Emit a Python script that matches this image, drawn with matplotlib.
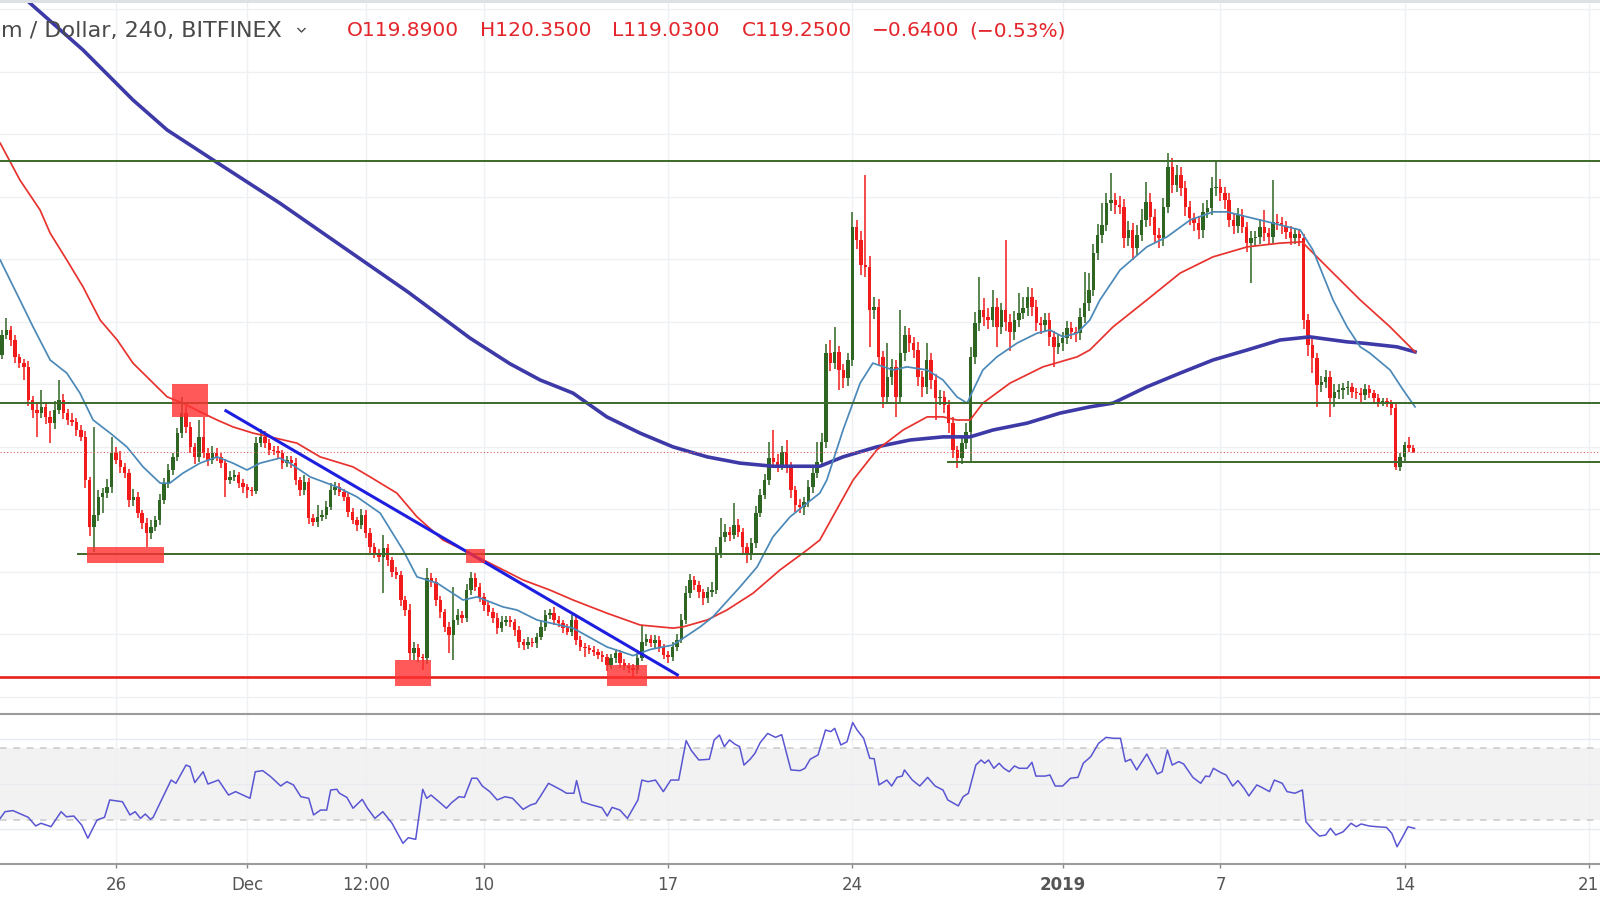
import numpy as np
import matplotlib
matplotlib.use("Agg")
import matplotlib.pyplot as plt
import matplotlib.dates as mdates
from matplotlib.lines import Line2D
from matplotlib.patches import Rectangle

# ETH/USD, 4h bars on Bitfinex, first visible bar 21 Nov 2018 12:00
start = "2018-11-21 12:00"
first_open = 138.2

closes = [
    134.7, 137.9, 138.7, 137.1, 134.4, 133.4, 132.8, 127.5, 125.9, 125.4,
    126.4, 124.8, 123.8, 125.9, 127.5, 125.4, 124.3, 124.0, 122.7, 121.6,
    114.7, 107.2, 109.1, 112.0, 112.6, 113.6, 119.0, 117.9, 116.8, 115.8,
    111.5, 112.0, 109.4, 107.8, 106.2, 107.2, 108.3, 111.5, 114.2, 116.3,
    118.4, 122.2, 125.4, 123.2, 120.0, 118.4, 121.6, 119.0, 117.9, 119.0,
    118.4, 117.4, 114.7, 115.2, 115.5, 114.2, 113.6, 113.1, 112.9, 120.6,
    121.6, 120.6, 119.5, 119.3, 119.0, 117.4, 117.9, 117.4, 114.7, 113.1,
    114.4, 108.6, 108.0, 108.8, 109.1, 110.4, 113.1, 113.6, 112.8, 112.0,
    109.6, 108.3, 107.5, 109.1, 106.2, 104.0, 103.0, 102.4, 103.8, 101.9,
    100.0, 99.5, 95.5, 93.9, 87.0, 87.8, 86.4, 86.2, 99.0, 98.4,
    95.5, 93.6, 91.2, 89.9, 92.3, 93.1, 92.6, 97.1, 99.0, 97.6,
    96.0, 94.7, 93.6, 92.6, 91.0, 92.0, 92.3, 92.0, 90.7, 88.8,
    88.3, 88.8, 88.6, 89.6, 91.2, 93.1, 93.4, 92.3, 91.8, 91.0,
    90.4, 92.3, 89.1, 88.0, 87.8, 87.5, 87.2, 86.7, 86.4, 85.1,
    86.2, 87.0, 85.4, 84.9, 84.6, 84.3, 86.2, 88.8, 89.3, 88.6,
    89.1, 88.0, 86.7, 86.4, 88.0, 89.1, 92.3, 96.6, 98.7, 97.9,
    96.8, 95.8, 96.8, 97.1, 103.0, 105.6, 106.4, 105.9, 107.5, 106.4,
    104.0, 102.7, 104.6, 109.4, 112.3, 114.7, 118.2, 117.6, 117.1, 119.2,
    116.8, 113.1, 110.7, 110.4, 111.2, 113.6, 115.8, 117.6, 120.8, 135.0,
    133.4, 135.2, 132.3, 131.0, 133.9, 155.2, 153.1, 149.1, 148.8, 141.9,
    142.4, 134.4, 128.0, 131.2, 132.8, 128.0, 135.0, 137.9, 136.6, 135.5,
    131.2, 129.6, 133.9, 130.7, 127.8, 128.0, 126.7, 123.8, 119.5, 118.2,
    120.6, 122.4, 134.4, 139.8, 141.9, 140.8, 140.3, 142.4, 139.2, 141.9,
    140.0, 138.4, 140.3, 141.4, 142.2, 144.0, 142.4, 139.8, 139.5, 140.3,
    137.6, 136.0, 136.6, 137.4, 139.0, 138.4, 138.2, 140.8, 143.0, 145.1,
    151.0, 153.9, 155.5, 159.0, 159.5, 158.7, 158.4, 153.4, 154.7, 151.8,
    153.9, 156.3, 159.2, 156.8, 153.9, 153.4, 158.4, 164.8, 161.9, 163.5,
    161.4, 158.4, 156.6, 155.8, 154.7, 157.6, 158.2, 161.4, 161.6, 160.6,
    159.5, 156.3, 155.3, 157.1, 155.2, 152.6, 153.4, 153.6, 155.2, 154.2,
    153.6, 156.0, 155.8, 155.3, 154.4, 153.4, 154.1, 153.4, 140.3, 136.3,
    134.2, 129.9, 130.4, 131.2, 127.8, 128.8, 129.1, 129.4, 129.6, 128.8,
    128.6, 128.3, 129.3, 128.6, 127.8, 127.2, 127.3, 127.0, 126.2, 116.8,
    118.4, 120.3, 119.89, 119.25,
]

# wick length above / below the candle body
wick_up = [
    1.0, 0.8, 1.9, 0.6, 0.8, 0.5, 0.7, 0.9, 0.6, 1.2,
    2.7, 0.8, 1.0, 1.5, 3.2, 0.9, 0.7, 1.2, 0.6, 0.8,
    0.9, 0.5, 14.1, 1.1, 0.8, 1.2, 2.6, 1.0, 1.4, 0.7,
    0.6, 1.3, 0.8, 0.5, 0.9, 1.1, 0.6, 0.9, 0.8, 1.0,
    0.7, 0.9, 2.6, 1.2, 0.8, 0.6, 2.7, 3.2, 0.9, 1.1,
    0.8, 0.6, 0.7, 0.9, 0.8, 0.5, 0.6, 0.4, 0.5, 1.0,
    1.2, 0.9, 0.7, 0.6, 0.8, 0.5, 0.7, 0.6, 0.8, 0.5,
    1.1, 0.7, 0.6, 1.9, 0.8, 0.9, 1.2, 0.8, 0.6, 0.5,
    0.7, 0.6, 0.5, 1.0, 0.8, 0.9, 0.6, 0.7, 2.1, 0.6,
    0.5, 0.8, 0.6, 0.7, 0.9, 1.0, 0.6, 0.5, 1.6, 0.8,
    0.7, 0.6, 0.5, 0.8, 5.3, 0.9, 0.7, 1.0, 1.0, 0.8,
    0.6, 0.7, 0.5, 0.6, 0.8, 0.9, 0.6, 0.7, 0.5, 0.6,
    0.5, 0.8, 0.6, 0.7, 0.9, 0.8, 0.7, 1.0, 0.6, 0.5,
    0.6, 0.8, 0.5, 0.6, 0.7, 0.5, 0.6, 0.5, 0.6, 0.5,
    0.7, 0.6, 0.5, 0.6, 0.5, 0.6, 0.8, 2.7, 0.7, 0.6,
    0.8, 0.6, 0.5, 0.7, 0.8, 0.9, 1.0, 1.2, 0.9, 0.7,
    0.6, 0.5, 0.8, 1.3, 1.0, 3.0, 1.2, 0.8, 3.5, 0.9,
    0.7, 0.6, 0.9, 1.1, 1.0, 0.9, 2.6, 4.5, 1.2, 1.0,
    1.9, 0.8, 0.7, 0.9, 0.8, 1.1, 1.0, 3.2, 1.4, 1.5,
    2.1, 4.0, 0.9, 1.0, 1.2, 2.4, 1.1, 1.5, 14.4, 1.8,
    1.6, 1.2, 1.0, 5.4, 1.3, 1.1, 6.9, 1.5, 1.2, 1.0,
    1.3, 0.9, 2.7, 1.2, 1.0, 1.1, 0.9, 0.8, 1.0, 0.7,
    1.2, 1.4, 1.6, 1.8, 5.3, 2.0, 1.4, 2.7, 1.5, 1.2,
    11.2, 1.3, 1.5, 3.2, 1.8, 1.6, 1.4, 1.1, 1.0, 1.2,
    1.1, 1.0, 1.3, 0.9, 1.2, 1.0, 0.8, 1.4, 5.0, 2.7,
    1.5, 1.8, 3.5, 1.6, 4.3, 1.2, 1.5, 1.3, 1.4, 1.1,
    1.6, 1.8, 3.2, 1.4, 1.2, 1.1, 1.5, 2.2, 1.4, 1.6,
    1.3, 1.1, 1.0, 0.9, 1.2, 1.4, 1.3, 1.8, 4.1, 1.2,
    1.0, 1.1, 0.9, 1.2, 1.0, 0.8, 1.1, 1.0, 1.3, 2.7,
    0.9, 6.7, 1.2, 1.0, 0.8, 0.9, 1.0, 0.8, 0.7, 1.0,
    0.9, 0.8, 1.0, 1.1, 0.9, 1.2, 1.0, 0.8, 0.9, 0.7,
    0.6, 0.8, 0.7, 0.6, 0.5, 0.6, 0.5, 0.6, 0.5, 0.7,
    0.6, 0.5, 1.3, 0.46,
]
wick_dn = [
    0.8, 0.6, 0.7, 1.0, 0.9, 0.8, 2.1, 1.0, 1.2, 3.8,
    0.8, 1.2, 3.2, 0.9, 0.7, 1.0, 0.8, 0.6, 0.9, 0.7,
    1.2, 1.5, 4.0, 1.0, 2.6, 0.8, 0.9, 0.7, 1.0, 0.8,
    1.1, 0.9, 0.8, 1.0, 2.2, 0.9, 0.7, 0.8, 0.6, 0.7,
    0.8, 0.6, 0.7, 0.9, 1.0, 1.1, 0.8, 0.7, 0.9, 0.6,
    0.7, 0.8, 2.7, 0.6, 0.7, 0.8, 0.9, 1.3, 0.7, 0.5,
    0.6, 0.7, 0.8, 0.6, 0.7, 0.9, 0.6, 0.7, 0.8, 1.0,
    0.8, 0.9, 0.7, 0.8, 0.6, 0.7, 0.5, 0.8, 0.7, 0.6,
    0.8, 0.7, 0.9, 0.6, 0.8, 1.0, 0.7, 0.8, 5.8, 0.9,
    0.8, 0.7, 0.9, 1.0, 1.1, 1.1, 0.8, 1.9, 0.9, 0.8,
    0.9, 1.0, 0.8, 2.9, 4.0, 0.8, 0.7, 0.6, 0.8, 0.7,
    0.8, 0.9, 0.7, 0.8, 0.9, 0.6, 0.7, 0.8, 0.9, 1.0,
    0.8, 0.7, 0.6, 0.8, 0.5, 0.6, 0.7, 0.8, 0.6, 0.7,
    0.5, 0.6, 0.8, 0.7, 1.4, 0.6, 0.7, 0.6, 0.8, 0.9,
    0.6, 0.7, 0.8, 0.6, 0.7, 1.1, 0.6, 0.5, 0.7, 0.6,
    0.7, 0.8, 0.6, 0.9, 0.7, 0.6, 0.5, 0.6, 0.7, 0.8,
    0.9, 1.1, 0.7, 0.8, 0.6, 0.7, 0.8, 0.9, 0.7, 0.8,
    1.0, 1.2, 0.8, 0.7, 0.6, 0.7, 0.8, 0.9, 1.1, 0.8,
    1.0, 1.2, 1.1, 0.9, 1.3, 0.8, 0.9, 0.7, 0.8, 0.9,
    1.2, 1.0, 3.2, 1.5, 1.3, 1.0, 1.4, 1.6, 1.6, 5.9,
    1.4, 1.5, 1.8, 1.2, 1.3, 3.2, 1.0, 1.2, 1.4, 1.3,
    1.5, 1.6, 1.2, 1.4, 3.5, 1.1, 1.3, 1.5, 1.2, 1.6,
    1.0, 0.9, 4.8, 1.2, 1.3, 1.5, 1.4, 1.1, 3.2, 1.2,
    1.4, 3.1, 1.3, 1.1, 1.0, 1.2, 1.4, 1.3, 1.5, 1.2,
    1.4, 3.2, 1.1, 1.3, 1.0, 1.2, 1.4, 1.1, 0.9, 1.2,
    1.0, 1.1, 1.3, 1.0, 1.2, 1.4, 1.1, 1.6, 1.3, 1.9,
    1.2, 1.0, 1.1, 1.4, 1.3, 1.6, 1.2, 1.0, 1.3, 1.1,
    1.2, 1.4, 1.1, 1.3, 1.5, 1.2, 1.0, 1.1, 1.2, 1.3,
    1.4, 1.2, 1.3, 1.1, 1.0, 1.4, 6.4, 1.2, 1.1, 1.3,
    1.2, 1.0, 1.1, 1.3, 1.2, 1.1, 1.0, 1.2, 1.5, 1.8,
    2.4, 3.5, 1.2, 1.0, 3.0, 1.4, 1.2, 1.5, 1.1, 1.0,
    0.9, 1.1, 0.8, 0.7, 0.9, 0.8, 0.7, 0.6, 1.1, 0.5,
    0.7, 0.6, 0.7, 0.22,
]

# moving averages: (bar index, value)
fast_idx = [0.6, 5.1, 8.1, 12.0, 15.8, 18.8, 21.8, 25.7, 29.5, 33.2,
            37.1, 39.3, 42.3, 46.2, 50.1, 53.7, 56.9, 59.9, 64.4, 66.7,
            71.3, 77.4, 82.0, 87.3, 92.5, 95.7, 100.3, 106.2, 109.4, 115.3,
            118.5, 123.1, 131.3, 139.0, 145.0, 149.0, 154.1, 160.3, 163.2, 169.4,
            173.3, 176.9, 180.8, 184.7, 187.6, 189.2, 192.9, 196.8, 199.7, 204.3,
            207.5, 212.1, 215.7, 218.9, 221.2, 222.6, 224.8, 228.0, 232.6, 237.2,
            240.1, 243.1, 246.3, 249.2, 251.5, 256.1, 262.2, 266.8, 272.1, 277.3,
            280.5, 285.1, 291.0, 297.2, 300.1, 304.7, 307.9, 310.9, 313.1, 317.7,
            320.7, 323.4]
fast_val = [149.9, 143.5, 139.2, 133.9, 131.8, 128.6, 124.3, 122.2, 120.0, 116.8,
            114.2, 114.2, 115.8, 117.4, 118.4, 117.4, 116.3, 117.4, 118.2, 117.4,
            115.2, 113.6, 112.0, 109.4, 103.5, 99.2, 98.2, 95.5, 96.0, 94.4,
            93.9, 92.3, 91.0, 88.0, 86.6, 87.6, 88.3, 91.2, 92.8, 97.6,
            100.8, 105.6, 108.8, 111.0, 112.6, 114.7, 122.7, 130.2, 133.4, 132.3,
            132.8, 132.3, 130.7, 128.0, 127.0, 129.1, 132.3, 134.4, 136.6, 138.2,
            138.7, 137.6, 138.2, 140.3, 143.5, 148.3, 152.0, 153.6, 156.3, 157.6,
            157.6, 156.8, 155.8, 154.7, 151.5, 143.5, 139.2, 136.0, 135.0, 132.3,
            129.1, 126.4]

mid_idx = [0.6, 5.1, 9.7, 12.0, 15.8, 19.5, 23.4, 27.3, 30.9, 34.8,
           38.7, 42.3, 46.2, 50.1, 53.7, 58.3, 62.2, 68.3, 73.6, 81.1,
           85.0, 91.1, 95.7, 101.6, 107.8, 114.0, 119.9, 126.0, 131.3, 139.0,
           146.6, 154.1, 156.4, 161.9, 166.4, 172.4, 178.5, 184.7, 187.6, 195.2,
           200.6, 206.6, 212.1, 215.7, 218.9, 221.9, 224.8, 231.0, 238.5, 246.3,
           249.2, 254.5, 262.2, 269.8, 277.3, 285.1, 292.6, 297.6, 303.3, 310.9,
           317.7, 323.4]
mid_val = [168.6, 162.7, 157.9, 154.2, 149.9, 145.6, 140.3, 137.1, 133.4, 130.7,
           128.0, 127.0, 125.6, 124.3, 123.2, 122.2, 121.6, 120.6, 118.4, 116.8,
           115.2, 112.6, 108.8, 105.1, 103.0, 100.8, 98.7, 97.1, 95.5, 93.4,
           91.5, 91.0, 91.2, 92.3, 93.9, 96.6, 100.3, 103.5, 105.1, 114.7,
           119.5, 122.7, 124.8, 124.8, 124.3, 124.3, 127.0, 130.2, 132.8, 134.4,
           135.5, 139.2, 143.5, 147.8, 150.4, 152.0, 152.6, 152.8, 148.8, 143.5,
           139.2, 135.2]

slow_idx = [0.6, 7.4, 19.5, 30.9, 38.7, 49.2, 64.4, 75.9, 93.6, 107.8,
            116.9, 123.8, 131.3, 139.0, 146.6, 154.1, 161.9, 169.4, 176.9, 187.6,
            192.9, 200.6, 208.2, 215.7, 221.9, 227.1, 234.9, 242.4, 249.2, 254.5,
            262.2, 269.8, 277.3, 285.1, 292.6, 299.4, 307.9, 311.5, 319.3, 323.4]
slow_val = [195.3, 191.0, 183.5, 175.5, 170.7, 165.9, 159.0, 153.4, 144.8, 137.4,
            133.3, 130.7, 128.6, 124.8, 122.2, 120.0, 118.4, 117.4, 116.9, 116.9,
            118.4, 120.0, 121.1, 121.6, 121.6, 122.7, 123.8, 125.4, 126.4, 127.0,
            129.6, 131.8, 133.9, 135.5, 137.1, 137.6, 136.8, 136.6, 136.0, 135.2]

# RSI pane, (bar index, value)
rsi_idx = [0.6, 1.7, 3.5, 5.8, 7.0, 8.7, 9.9, 12.2, 14.5, 15.7,
           17.4, 19.2, 20.6, 22.7, 24.4, 25.6, 28.5, 30.2, 31.4, 32.6,
           33.7, 34.9, 35.5, 39.6, 40.7, 43.0, 43.9, 45.0, 46.9, 48.0,
           50.4, 52.7, 54.3, 57.6, 58.8, 60.5, 62.3, 64.6, 66.0, 67.5,
           69.2, 71.0, 72.1, 73.7, 75.1, 76.0, 77.4, 78.0, 79.7, 81.1,
           83.2, 84.4, 86.1, 87.9, 90.0, 92.5, 93.7, 95.4, 97.0, 97.9,
           98.9, 100.7, 102.4, 103.6, 105.3, 106.5, 108.2, 109.4, 110.6, 112.3,
           114.0, 115.8, 117.5, 119.9, 121.6, 122.8, 123.9, 125.7, 128.6, 129.8,
           131.5, 132.1, 133.3, 135.6, 137.9, 139.1, 140.2, 142.0, 143.7, 146.1,
           147.0, 148.4, 150.1, 151.9, 153.6, 155.4, 157.1, 158.3, 160.0, 162.4,
           163.5, 164.7, 165.8, 167.0, 168.2, 169.3, 170.3, 171.7, 172.8, 174.0,
           175.7, 177.5, 178.9, 181.0, 183.1, 184.2, 185.4, 187.2, 188.9, 190.1,
           191.0, 192.4, 193.8, 195.1, 196.1, 197.6, 199.0, 200.0, 201.1, 202.9,
           204.0, 205.2, 206.4, 206.9, 208.7, 210.4, 212.2, 213.9, 215.7, 216.8,
           219.2, 220.3, 221.5, 223.2, 224.4, 225.2, 226.1, 227.3, 228.5, 229.6,
           230.8, 232.0, 233.1, 234.9, 236.0, 236.9, 239.0, 240.1, 241.3, 243.0,
           244.8, 246.5, 247.7, 249.4, 251.2, 252.9, 254.7, 256.2, 257.3, 258.5,
           259.9, 262.2, 264.6, 265.7, 266.9, 268.0, 269.5, 270.6, 272.7, 274.5,
           275.6, 276.5, 277.4, 279.1, 280.3, 281.8, 283.0, 284.4, 285.5, 287.3,
           288.4, 290.2, 291.3, 293.1, 294.2, 296.0, 297.7, 298.5, 300.1, 301.6,
           303.0, 304.1, 305.3, 307.0, 308.8, 310.0, 311.1, 312.9, 314.6, 316.9,
           318.1, 319.3, 320.4, 321.8, 323.3]
rsi_val = [30.9, 34.6, 35.2, 32.8, 31.5, 26.7, 28.2, 26.3, 34.6, 31.8,
           32.2, 27.2, 19.9, 30.0, 31.5, 41.1, 40.1, 32.8, 34.6, 30.9,
           33.3, 30.4, 31.5, 52.1, 50.3, 60.4, 59.5, 50.7, 56.7, 49.9,
           52.1, 43.8, 45.7, 42.0, 56.7, 57.3, 54.0, 48.8, 51.2, 49.4,
           42.9, 42.0, 32.8, 35.5, 35.5, 46.6, 47.0, 44.8, 42.5, 36.5,
           41.4, 36.5, 30.9, 34.6, 28.2, 17.1, 20.2, 19.3, 47.0, 42.0,
           43.8, 40.1, 36.5, 39.6, 42.9, 42.5, 53.1, 53.1, 48.8, 45.7,
           41.1, 42.9, 42.0, 35.9, 38.3, 39.2, 43.3, 50.3, 46.6, 44.8,
           44.8, 51.8, 40.1, 38.3, 36.8, 32.2, 37.0, 35.5, 30.9, 41.1,
           52.1, 51.2, 52.1, 45.7, 52.1, 52.1, 73.9, 68.4, 63.2, 63.6,
           74.3, 77.0, 70.6, 74.3, 72.0, 70.6, 60.4, 63.6, 66.9, 72.8,
           77.9, 75.7, 77.2, 57.7, 57.3, 58.6, 63.6, 66.0, 79.8, 78.9,
           80.7, 71.5, 73.3, 83.9, 79.8, 75.2, 64.1, 63.9, 49.4, 52.1,
           48.8, 53.6, 54.3, 57.7, 52.1, 48.8, 53.6, 48.8, 46.6, 41.1,
           37.8, 42.9, 44.8, 60.4, 63.2, 61.4, 63.2, 58.6, 61.4, 58.6,
           56.7, 59.9, 58.6, 58.6, 61.9, 54.3, 54.3, 54.9, 48.8, 48.8,
           53.1, 53.6, 61.4, 65.0, 72.4, 75.7, 75.2, 75.2, 62.3, 63.6,
           57.7, 66.5, 55.5, 56.7, 68.7, 60.4, 62.3, 61.0, 53.6, 50.3,
           54.3, 54.0, 58.6, 56.2, 54.9, 48.8, 51.8, 47.5, 43.3, 49.4,
           48.1, 45.7, 52.1, 50.3, 45.7, 44.8, 46.6, 29.1, 24.5, 21.1,
           21.7, 25.4, 21.7, 23.5, 28.2, 26.3, 27.8, 26.7, 26.3, 25.9,
           22.6, 15.2, 19.9, 26.3, 25.4]

# hand drawn levels: value and the bar where each starts
level_val = [165.8, 127.1, 117.6, 102.8]
level_from = [0, 0, 216.8, 18.4]
support = 83.2
trend_idx = [51.8, 155.4]
trend_val = [125.9, 83.4]
# highlight boxes: bar from, bar to, low, high
boxes = [(39.7, 48.1, 124.8, 130.1), (20.5, 38.0, 101.4, 104.0),
         (106.9, 111.2, 101.4, 103.7), (90.7, 98.9, 81.7, 85.9),
         (139.0, 148.1, 81.7, 85.1)]

tick_dates = ["2018-11-26", "2018-12-01", "2018-12-05 12:00", "2018-12-10",
              "2018-12-17", "2018-12-24", "2019-01-01", "2019-01-07",
              "2019-01-14", "2019-01-21"]
tick_labels = ["26", "Dec", "12:00", "10", "17", "24", "2019", "7", "14", "21"]

# the symbol title is cut at the left edge in the screenshot
title = "m / Dollar, 240, BITFINEX"

assert len(closes) == len(wick_up) == len(wick_dn)
assert len(rsi_idx) == len(rsi_val)

GREEN = "#2f6523"
RED = "#f21b1b"
GRID = "#eef0f4"

n = len(closes)
o = np.array([first_open] + closes[:-1])
c = np.array(closes)
hi = np.maximum(o, c) + np.array(wick_up)
lo = np.minimum(o, c) - np.array(wick_dn)

x0 = mdates.datestr2num(start)
bar = 1 / 6  # one 4h bar in days


def bx(idx):
    return x0 + np.asarray(idx, dtype=float) * bar


xs = bx(np.arange(n))
cols = np.where(c >= o, GREEN, RED)

fig = plt.figure(figsize=(16, 9), dpi=100, facecolor="white")
ax = fig.add_axes([0, 1 - 714 / 900, 1, 711 / 900])
ax2 = fig.add_axes([0, 0.04, 1, 150 / 900], sharex=ax)

# price pane
ax.vlines(xs, lo, hi, colors=cols, lw=1.1, zorder=2)
ax.bar(xs, np.maximum(np.abs(c - o), 0.2), bottom=np.minimum(o, c),
       width=0.78 * bar, color=cols, linewidth=0, zorder=2.1)

ax.plot(bx(slow_idx), slow_val, color="#3d3aa8", lw=2.6, zorder=3)
ax.plot(bx(mid_idx), mid_val, color="#e8322e", lw=1.25, zorder=3)
ax.plot(bx(fast_idx), fast_val, color="#4b89b8", lw=1.25, zorder=3)

right = x0 + 365.6 * bar
for v, f in zip(level_val, level_from):
    ax.plot([bx(f), right], [v, v], color="#3c6a2a", lw=1.4, zorder=3.2)
ax.axhline(support, color="#e8201c", lw=1.9, zorder=3.2)
ax.axhline(c[-1], color="#e06060", lw=0.8, ls=(0, (1, 2)), zorder=3.1)
ax.plot(bx(trend_idx), trend_val, color="#1e1ee0", lw=2.2,
        solid_capstyle="butt", zorder=3.4)

for b0, b1, p0, p1 in boxes:
    ax.add_patch(Rectangle((bx(b0), p0), (b1 - b0) * bar, p1 - p0,
                           facecolor="#ff3030", alpha=0.8, lw=0, zorder=4))

ax.set_ylim(77.26, 191.02)
ax.set_yticks(np.arange(80, 191, 10))
ax.yaxis.grid(True, color=GRID, lw=1)
ax.xaxis.grid(True, color=GRID, lw=1)
ax.set_axisbelow(True)
ax.tick_params(axis="both", length=0, labelleft=False, labelbottom=False)
for s in ax.spines.values():
    s.set_visible(False)

# RSI pane
ax2.axhspan(30, 70, color="#f2f2f2", lw=0, zorder=0.5)
for v in (30, 70):
    ax2.axhline(v, color="#cdcdcd", lw=1.2, ls=(0, (4, 4)), zorder=1)
ax2.plot(bx(rsi_idx), rsi_val, color="#5a55d2", lw=1.1, zorder=3)
ax2.set_ylim(5.66, 88.64)
ax2.set_yticks([25, 50, 75])
ax2.yaxis.grid(True, color="#e8ebf0", lw=1)
ax2.xaxis.grid(True, color=GRID, lw=1)
ax2.set_axisbelow(True)
ax2.tick_params(axis="y", length=0, labelleft=False)
for side in ("left", "right"):
    ax2.spines[side].set_visible(False)
for side in ("top", "bottom"):
    ax2.spines[side].set_color("#9b9b9b")
    ax2.spines[side].set_linewidth(1.5)

ax2.set_xticks([mdates.datestr2num(d) for d in tick_dates])
ax2.set_xticklabels(tick_labels)
ax2.tick_params(axis="x", length=3, width=1, color="#888888", pad=6,
                labelsize=12, labelcolor="#555555")
ax2.get_xticklabels()[tick_labels.index("2019")].set_fontweight("bold")
ax2.set_xlim(x0 + 0.559 * bar, right)

# header strip
fig.add_artist(Rectangle((0, 1 - 4 / 900), 1, 4 / 900, transform=fig.transFigure,
                         facecolor="#dde1e6", lw=0, zorder=0))
ty = 1 - 30.6 / 900
fig.text(1 / 1600, ty, title, ha="left", va="center", fontsize=16,
         color="#4a4a4a")
fig.add_artist(Line2D([298 / 1600, 301.5 / 1600, 305 / 1600],
                      [1 - 28.5 / 900, 1 - 32 / 900, 1 - 28.5 / 900],
                      transform=fig.transFigure, color="#4a4a4a", lw=1))

chg = c[-1] - o[-1]
ohlc = [f"O{o[-1]:.4f}", f"H{hi[-1]:.4f}", f"L{lo[-1]:.4f}", f"C{c[-1]:.4f}",
        f"{chg:.4f}".replace("-", "\u2212"),
        f"({chg / o[-1] * 100:.2f}%)".replace("-", "\u2212")]
ohlc_x = [347, 480, 612, 742, 872, 969]
for t, px in zip(ohlc, ohlc_x):
    fig.text(px / 1600, ty, t, ha="left", va="center", fontsize=14.5,
             color="#e3262b")

fig.savefig("out.png", dpi=100)
